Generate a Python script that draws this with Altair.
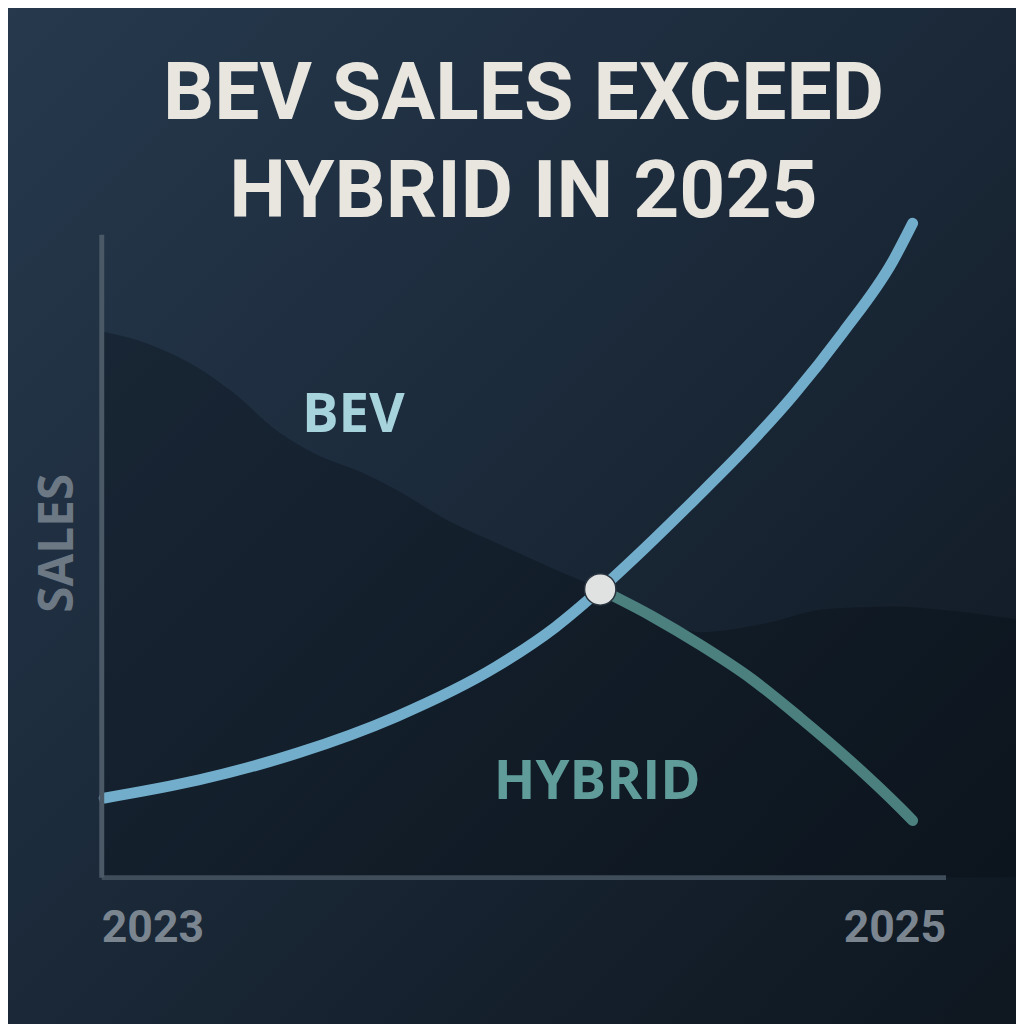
import altair as alt
import pandas as pd

# ---- data ----
bev_year = [2023.007, 2023.23, 2023.465, 2023.70, 2023.935, 2024.076, 2024.182, 2024.288,
            2024.405, 2024.523, 2024.64, 2024.758, 2024.875, 2024.922]
bev_sales = [12.3, 15.1, 19.3, 25.0, 32.7, 38.9, 44.75, 51.2, 58.7, 66.5, 75.0, 84.8,
             95.8, 101.7]

hyb_year = [2024.182, 2024.304, 2024.422, 2024.539, 2024.657, 2024.774, 2024.892, 2024.922]
hyb_sales = [44.75, 40.6, 36.0, 30.9, 24.7, 18.1, 10.8, 8.8]

shade_year = [2023.0, 2023.113, 2023.23, 2023.308, 2023.425, 2023.505, 2023.623, 2023.70,
              2023.818, 2023.935, 2024.076, 2024.182, 2024.288, 2024.422, 2024.57, 2024.718,
              2024.875, 2025.016, 2025.167]
shade_sales = [84.9, 82.9, 79.2, 75.6, 69.0, 65.9, 62.8, 60.2, 55.6, 52.0, 47.8, 44.8, 41.4,
               38.1, 39.4, 41.7, 42.1, 41.4, 40.1]

cross_year = [2024.182]
cross_sales = [44.75]

label_text = ["BEV", "HYBRID"]
label_year = [2023.597, 2024.175]
label_sales = [71.9, 14.7]
label_color = ["#A7D3DD", "#5F9C9A"]

tick_years = [2023, 2025]

title_lines = ["BEV SALES EXCEED", "HYBRID IN 2025"]

W, H = 851, 648
PAD = {"left": 94, "top": 224, "right": 71, "bottom": 144}

bev_df = pd.DataFrame({"year": bev_year, "sales": bev_sales})
hyb_df = pd.DataFrame({"year": hyb_year, "sales": hyb_sales})
shade_df = pd.DataFrame({"year": shade_year, "sales": shade_sales})
cross_df = pd.DataFrame({"year": cross_year, "sales": cross_sales})
label_df = pd.DataFrame({"label": label_text, "year": label_year, "sales": label_sales,
                         "color": label_color})
one = pd.DataFrame({"a": [0]})

xscale = alt.Scale(domain=[2023, 2025], nice=False, zero=False)
yscale = alt.Scale(domain=[0, 100], nice=False)

xaxis = alt.Axis(values=tick_years, format="d", labelFlush=True, ticks=False, grid=False,
                 domainColor="#3F4C59", domainWidth=5, labelColor="#7A8590",
                 labelFont="Roboto", labelFontWeight="bold", labelFontSize=45,
                 labelPadding=29, title=None, zindex=2)
yaxis = alt.Axis(labels=False, ticks=False, grid=False, domainColor="#4B5967", domainWidth=5,
                 title="SALES", titleColor="#6C7884", titleFont="Open Sans",
                 titleFontWeight="bold", titleFontSize=48, titleAngle=270,
                 titleX=-29, titleY=311, titleAlign="center", titleBaseline="alphabetic",
                 zindex=2)

bg = alt.Chart(one).mark_rect(
    fill=alt.Gradient(
        gradient="linear", x1=0, y1=0, x2=1, y2=1,
        stops=[alt.GradientStop(color="#26394D", offset=0),
               alt.GradientStop(color="#1D2C3D", offset=0.4),
               alt.GradientStop(color="#141F2B", offset=0.75),
               alt.GradientStop(color="#0E1720", offset=1)]
    )
).encode(
    x=alt.value(-PAD["left"] - 8), x2=alt.value(W + PAD["right"] + 8),
    y=alt.value(-PAD["top"] - 8), y2=alt.value(H + PAD["bottom"] + 8)
)

title = alt.Chart(one).mark_text(
    font="Roboto", fontWeight="bold", fontSize=81, color="#E8E6DF",
    align="center", baseline="alphabetic", lineHeight=99
).encode(x=alt.value(W / 2), y=alt.value(-116), text=alt.value(title_lines))

shade = alt.Chart(shade_df).mark_area(
    color="#070D14", opacity=0.32, interpolate="monotone"
).encode(
    x=alt.X("year:Q", scale=xscale, axis=xaxis),
    y=alt.Y("sales:Q", scale=yscale, axis=yaxis),
)

bev = alt.Chart(bev_df).mark_line(
    color="#72AECB", strokeWidth=11, strokeCap="round", interpolate="monotone"
).encode(x=alt.X("year:Q", scale=xscale), y=alt.Y("sales:Q", scale=yscale))

hyb = alt.Chart(hyb_df).mark_line(
    color="#4B807F", strokeWidth=11, strokeCap="round", interpolate="monotone"
).encode(x=alt.X("year:Q", scale=xscale), y=alt.Y("sales:Q", scale=yscale))

cross = alt.Chart(cross_df).mark_point(
    filled=True, size=1000, fill="#DFE2E1", stroke="#2A3440", strokeWidth=1.5, opacity=1
).encode(x=alt.X("year:Q", scale=xscale), y=alt.Y("sales:Q", scale=yscale))

labels = alt.Chart(label_df).mark_text(
    font="Open Sans", fontWeight="bold", fontSize=55, align="center", baseline="middle"
).encode(
    x=alt.X("year:Q", scale=xscale), y=alt.Y("sales:Q", scale=yscale),
    text="label:N", color=alt.Color("color:N", scale=None)
)

chart = alt.layer(bg, title, shade, bev, hyb, cross, labels).properties(
    width=W, height=H, padding=PAD,
    autosize=alt.AutoSizeParams(type="none"),
    background="#1B2939",
).configure_view(stroke=None)

chart.save("out.html", embed_options={"renderer": "svg", "actions": False})
